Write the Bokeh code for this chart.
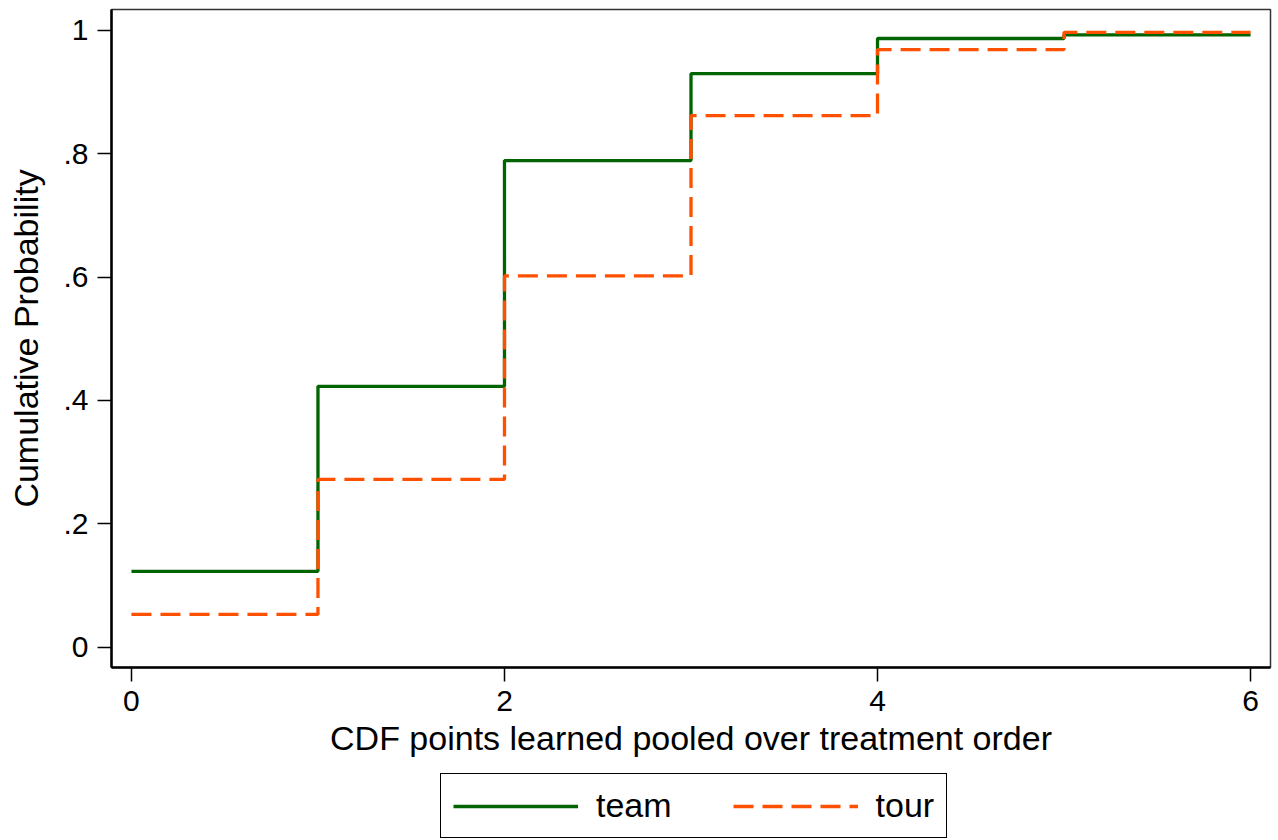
from bokeh.plotting import figure
from bokeh.layouts import column
from bokeh.models import Legend, LegendItem, FixedTicker, Range1d
from bokeh.embed import file_html
from bokeh.resources import INLINE

points = [0, 1, 2, 3, 4, 5, 6]
team = [0.123, 0.423, 0.789, 0.930, 0.987, 0.993, 0.993]
tour = [0.053, 0.272, 0.602, 0.862, 0.969, 0.997, 0.997]
x_ticks = [0, 2, 4, 6]
y_ticks = [0, 0.2, 0.4, 0.6, 0.8, 1.0]
y_tick_labels = ["0", ".2", ".4", ".6", ".8", "1"]
series_names = ["team", "tour"]

FONT = "Liberation Sans"
TEAM_COLOR = "#006400"
TOUR_COLOR = "#ff5000"
TOUR_DASH = "20 9"
LW = 3.3

p = figure(width=1276, height=772, output_backend="svg", toolbar_location=None,
           x_range=Range1d(-0.107, 6.107), y_range=Range1d(-0.033, 1.034),
           min_border_left=111, min_border_right=6, min_border_top=9, min_border_bottom=105)

p.grid.visible = False
p.outline_line_color = "#333333"
p.outline_line_width = 1.5

p.step(points, team, mode="after", line_color=TEAM_COLOR, line_width=LW)
p.step(points, tour, mode="after", line_color=TOUR_COLOR, line_width=LW, line_dash=TOUR_DASH)

p.xaxis.ticker = FixedTicker(ticks=x_ticks)
p.yaxis.ticker = FixedTicker(ticks=y_ticks)
p.yaxis.major_label_overrides = {t: l for t, l in zip(y_ticks, y_tick_labels)}
p.yaxis.major_label_orientation = "horizontal"
p.xaxis.axis_label = "CDF points learned pooled over treatment order"
p.yaxis.axis_label = "Cumulative Probability"

for ax in (p.xaxis[0], p.yaxis[0]):
    ax.axis_line_width = 2.5
    ax.axis_line_color = "black"
    ax.major_tick_line_width = 1.5
    ax.major_tick_line_color = "black"
    ax.major_tick_out = 14
    ax.major_tick_in = 0
    ax.minor_tick_line_color = None
    ax.major_label_text_font = FONT
    ax.major_label_text_font_size = "30px"
    ax.major_label_text_color = "black"
    ax.axis_label_text_font = FONT
    ax.axis_label_text_font_size = "34px"
    ax.axis_label_text_font_style = "normal"
    ax.axis_label_text_color = "black"
    ax.major_label_standoff = 9
p.xaxis.axis_label_standoff = 5
p.yaxis.axis_label_standoff = 15

# legend strip below the plot (series redrawn off-screen only to give the legend its glyphs)
lg = figure(width=1276, height=68, output_backend="svg", toolbar_location=None,
            x_range=Range1d(100, 101), y_range=Range1d(100, 101),
            min_border_left=0, min_border_right=0, min_border_top=0, min_border_bottom=0)
lg.axis.visible = False
lg.grid.visible = False
lg.outline_line_color = None
r_team = lg.line(points, team, line_color=TEAM_COLOR, line_width=LW)
r_tour = lg.line(points, tour, line_color=TOUR_COLOR, line_width=LW, line_dash=TOUR_DASH)

legend = Legend(items=[LegendItem(label=series_names[0], renderers=[r_team]),
                       LegendItem(label=series_names[1], renderers=[r_tour])],
                orientation="horizontal", location=(329, 2),
                border_line_color="black", border_line_width=1.5, border_line_alpha=1.0,
                label_text_font=FONT, label_text_font_size="34px", label_text_color="black",
                glyph_width=125, glyph_height=30, label_standoff=18,
                spacing=61, padding=12, margin=0,
                background_fill_alpha=1.0)
lg.add_layout(legend, "center")

layout = column(p, lg, spacing=0)
open("out.html", "w").write(file_html(layout, INLINE))
